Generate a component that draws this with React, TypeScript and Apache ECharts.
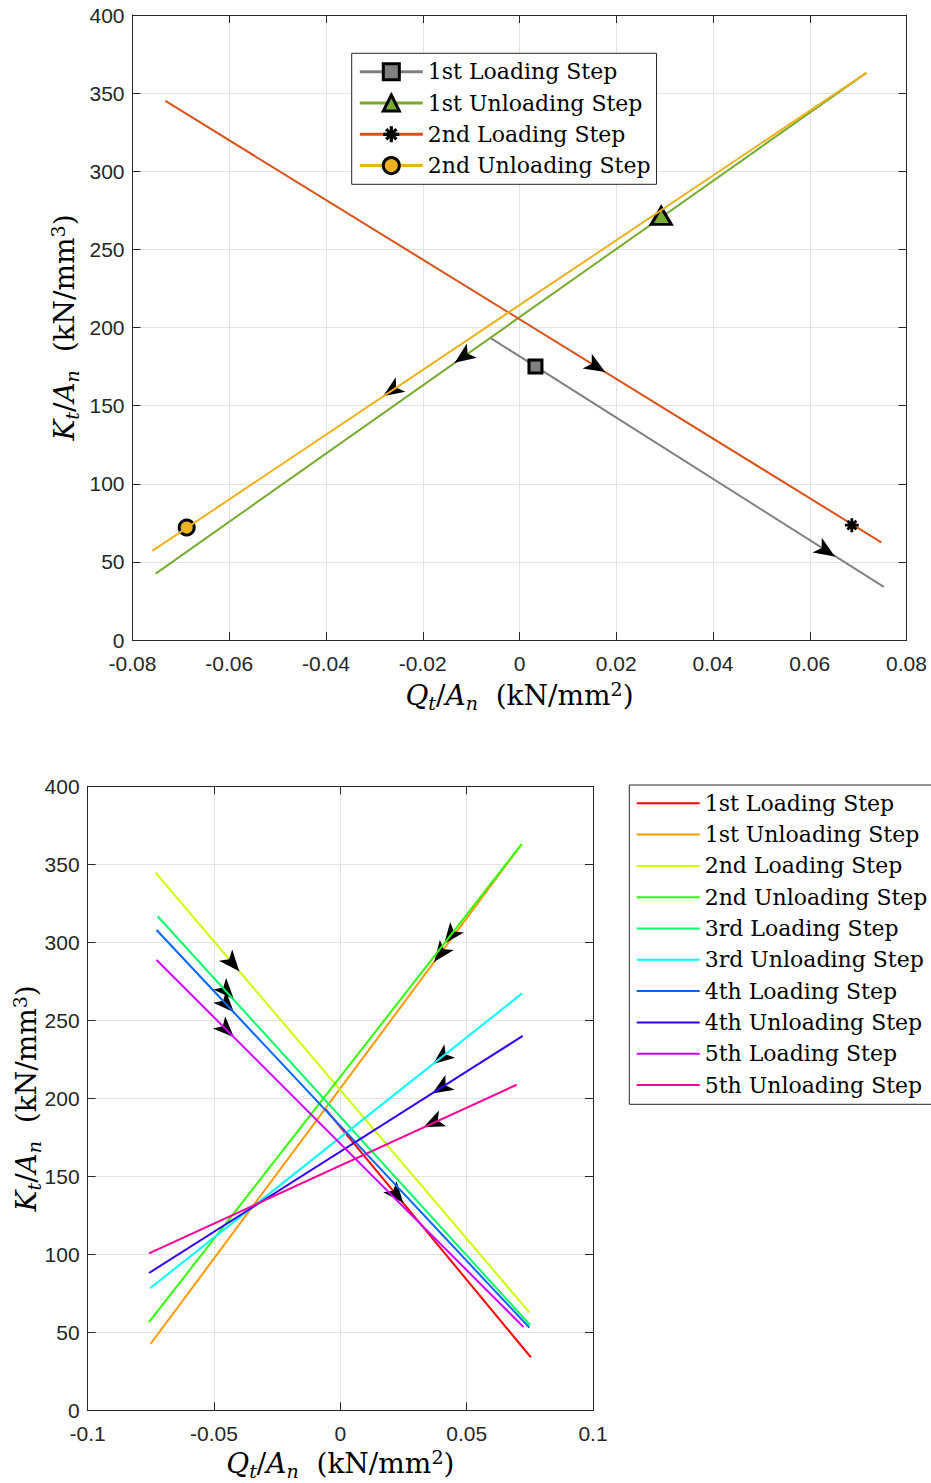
import React, { useEffect, useRef } from "react";
import * as echarts from "echarts";

type Pt = [number, number];

// ---------- Top chart data ----------
const topNames = ["1st Loading Step", "1st Unloading Step", "2nd Loading Step", "2nd Unloading Step"];
const topColors = ["#808080", "#77AC30", "#D95319", "#EDB120"];
const topLines: Pt[][] = [
  [[-0.0061, 193.5], [0.0753, 34]],
  [[0.0717, 363], [-0.0752, 42.5]],
  [[-0.0732, 345], [0.0748, 62.5]],
  [[0.0717, 363], [-0.0759, 57]],
];
const topMarkers: Pt[] = [[0.0033, 175], [0.0293, 271.5], [0.0687, 73.5], [-0.0688, 72]];
const topArrows: Pt[] = [[0.0652, 53.5], [-0.0134, 177.5], [0.0177, 171.5], [-0.0282, 156]];
const topXRange = { min: -0.08, max: 0.08, interval: 0.02 };
const yRange = { min: 0, max: 400, interval: 50 };

// ---------- Bottom chart data ----------
const botNames = [
  "1st Loading Step", "1st Unloading Step", "2nd Loading Step", "2nd Unloading Step",
  "3rd Loading Step", "3rd Unloading Step", "4th Loading Step", "4th Unloading Step",
  "5th Loading Step", "5th Unloading Step",
];
const botColors = ["#FF0000", "#FF9900", "#CCFF00", "#33FF00", "#00FF66", "#00FFFF", "#0066FF", "#3300FF", "#CC00FF", "#FF0099"];
const botLines: Pt[][] = [
  [[-0.0061, 193.5], [0.0754, 34]],
  [[0.0718, 363], [-0.0751, 42.5]],
  [[-0.0731, 344.6], [0.0748, 62.8]],
  [[0.0718, 363], [-0.0757, 56.5]],
  [[-0.0723, 316.7], [0.0751, 54.7]],
  [[0.072, 267.3], [-0.0753, 78.2]],
  [[-0.0727, 307.9], [0.0748, 53]],
  [[0.0722, 240], [-0.0757, 88]],
  [[-0.0727, 288.7], [0.0725, 53.4]],
  [[0.0698, 208.7], [-0.0757, 100.6]],
];
const botArrows: Pt[] = [
  [0.0249, 133], [0.0372, 287.5], [-0.04, 281.5], [0.0411, 299], [-0.0421, 263.5],
  [0.0368, 222], [-0.0421, 255.2], [0.0364, 203], [-0.0421, 239.1], [0.0329, 181.5],
];
const botXRange = { min: -0.1, max: 0.1, interval: 0.05 };

// ---------- styling ----------
const SANS = "'Liberation Sans', Arial, sans-serif";
const SERIF = "'DejaVu Serif', serif";
const AXIS = "#262626";
const GRID = "#e3e3e3";
const ASTERISK =
  "path://M-1,-0.2L1,-0.2L1,0.2L-1,0.2Z M-0.2,-1L0.2,-1L0.2,1L-0.2,1Z M-0.495,-0.777L0.777,0.495L0.495,0.777L-0.777,-0.495Z M-0.777,0.495L0.495,-0.777L0.777,-0.495L-0.495,0.777Z";

const topSymbols = ["rect", "triangle", ASTERISK, "circle"];
const topSymbolSizes: any[] = [13, [20, 17], 14, 15];
const topFills = ["#808080", "#77AC30", "#000000", "#EDB120"];

const nameRich = {
  i: { fontFamily: SERIF, fontStyle: "italic", fontSize: 28, color: "#000" },
  n: { fontFamily: SERIF, fontSize: 28, color: "#000" },
  s: { fontFamily: SERIF, fontStyle: "italic", fontSize: 19, color: "#000", padding: [15, 0, 0, 0] },
  p: { fontFamily: SERIF, fontSize: 19, color: "#000", padding: [0, 0, 13, 0] },
};
const X_NAME = "{i|Q}{s|t}{n|/}{i|A}{s|n}{n|  (kN/mm}{p|2}{n|)}";
const Y_NAME = "{i|K}{s|t}{n|/}{i|A}{s|n}{n|  (kN/mm}{p|3}{n|)}";

function arrowData(tip: Pt, line: Pt[]) {
  const [s, e] = line;
  const f = 0.015;
  const tail: Pt = [tip[0] - f * (e[0] - s[0]), tip[1] - f * (e[1] - s[1])];
  return [[{ coord: tail }, { coord: tip }]];
}

function arrowMarkLine(tip: Pt, line: Pt[]) {
  return {
    silent: true,
    animation: false,
    symbol: ["none", "arrow"],
    symbolSize: [13, 21],
    lineStyle: { color: "#000", width: 1, type: "solid" },
    itemStyle: { color: "#000" },
    label: { show: false },
    emphasis: { disabled: true },
    data: arrowData(tip, line),
  };
}

function buildAxes(xr: { min: number; max: number; interval: number }, xGap: number, yGap: number) {
  const common = {
    type: "value",
    axisLine: { show: true, onZero: false, lineStyle: { color: AXIS, width: 1 } },
    axisTick: { show: true, inside: true, length: 8, lineStyle: { color: AXIS } },
  };
  const label = { show: true, fontFamily: SANS, fontSize: 21, color: AXIS, hideOverlap: false };
  const xAxis = [
    {
      ...common, ...xr, position: "bottom",
      splitLine: { show: true, lineStyle: { color: GRID, width: 1 } },
      axisLabel: { ...label, margin: 13 },
      name: X_NAME, nameLocation: "middle", nameGap: xGap, nameMoveOverlap: false,
      nameTextStyle: { rich: nameRich },
    },
    { ...common, ...xr, position: "top", splitLine: { show: false }, axisLabel: { show: false } },
  ];
  const yAxis = [
    {
      ...common, ...yRange, position: "left",
      splitLine: { show: true, lineStyle: { color: GRID, width: 1 } },
      axisLabel: { ...label, margin: 8 },
      name: Y_NAME, nameLocation: "middle", nameGap: yGap, nameRotate: 90, nameMoveOverlap: false,
      nameTextStyle: { rich: nameRich },
    },
    { ...common, ...yRange, position: "right", splitLine: { show: false }, axisLabel: { show: false } },
  ];
  return { xAxis, yAxis };
}

function buildTop(): any {
  const { xAxis, yAxis } = buildAxes(topXRange, 38, 51);
  const series = topNames.map((name, i) => ({
    type: "line",
    name,
    data: topLines[i],
    xAxisIndex: 0,
    yAxisIndex: 0,
    showSymbol: false,
    symbol: topSymbols[i],
    symbolSize: topSymbolSizes[i],
    color: topColors[i],
    lineStyle: { color: topColors[i], width: 2 },
    itemStyle: { color: topFills[i], borderColor: "#000", borderWidth: 3 },
    emphasis: { disabled: true },
    silent: true,
    z: 2 + i,
    markPoint: {
      silent: true,
      animation: false,
      symbol: topSymbols[i],
      symbolSize: topSymbolSizes[i],
      itemStyle: { color: topFills[i], borderColor: "#000", borderWidth: i === 2 ? 0 : 3 },
      label: { show: false },
      emphasis: { disabled: true },
      data: [{ coord: topMarkers[i] }],
    },
    markLine: arrowMarkLine(topArrows[i], topLines[i]),
  }));
  return {
    animation: false,
    backgroundColor: "#fff",
    grid: { left: 132.5, top: 15, width: 774, height: 625, containLabel: false, outerBoundsMode: "none" },
    xAxis,
    yAxis,
    legend: {
      orient: "vertical",
      left: 351.7,
      top: 53.3,
      padding: [6.4, 6, 6.7, 6.6],
      itemWidth: 63,
      itemHeight: 20,
      itemGap: 7.3,
      backgroundColor: "#fff",
      borderColor: AXIS,
      borderWidth: 1,
      selectedMode: false,
      textStyle: { fontFamily: SERIF, fontSize: 22, color: "#000", lineHeight: 24 },
      data: topNames.map((name, i) => ({
        name,
        itemStyle: { color: topFills[i], borderColor: "#000", borderWidth: i === 2 ? 0 : 3 },
        lineStyle: { color: topColors[i], width: 3 },
      })),
    },
    series,
  };
}

function buildBottom(): any {
  const { xAxis, yAxis } = buildAxes(botXRange, 36, 44);
  const series = botNames.map((name, i) => ({
    type: "line",
    name,
    data: botLines[i],
    xAxisIndex: 0,
    yAxisIndex: 0,
    showSymbol: false,
    symbol: "none",
    color: botColors[i],
    lineStyle: { color: botColors[i], width: 2 },
    emphasis: { disabled: true },
    silent: true,
    z: 2 + i,
    markLine: arrowMarkLine(botArrows[i], botLines[i]),
  }));
  return {
    animation: false,
    backgroundColor: "#fff",
    grid: { left: 87.6, top: 46.3, width: 505.4, height: 624, containLabel: false, outerBoundsMode: "none" },
    xAxis,
    yAxis,
    legend: {
      orient: "vertical",
      left: 629.3,
      top: 45,
      padding: [6.3, 6, 7.3, 7.4],
      itemWidth: 63,
      itemHeight: 2,
      itemGap: 7.3,
      icon: "rect",
      backgroundColor: "#fff",
      borderColor: AXIS,
      borderWidth: 1,
      selectedMode: false,
      textStyle: { fontFamily: SERIF, fontSize: 22, color: "#000", lineHeight: 24 },
      data: botNames.map((name, i) => ({ name, itemStyle: { color: botColors[i] } })),
    },
    series,
  };
}

export default function App() {
  const ref1 = useRef<HTMLDivElement>(null);
  const ref2 = useRef<HTMLDivElement>(null);
  useEffect(() => {
    const c1 = echarts.init(ref1.current!, undefined, { renderer: "svg" });
    c1.setOption(buildTop());
    const c2 = echarts.init(ref2.current!, undefined, { renderer: "svg" });
    c2.setOption(buildBottom());
    return () => {
      c1.dispose();
      c2.dispose();
    };
  }, []);
  return (
    <div style={{ position: "absolute", left: 0, top: 0, width: 931, height: 1483, background: "#fff" }}>
      <div ref={ref1} style={{ position: "absolute", left: 0, top: 0, width: 931, height: 740 }} />
      <div ref={ref2} style={{ position: "absolute", left: 0, top: 740, width: 931, height: 743 }} />
    </div>
  );
}
